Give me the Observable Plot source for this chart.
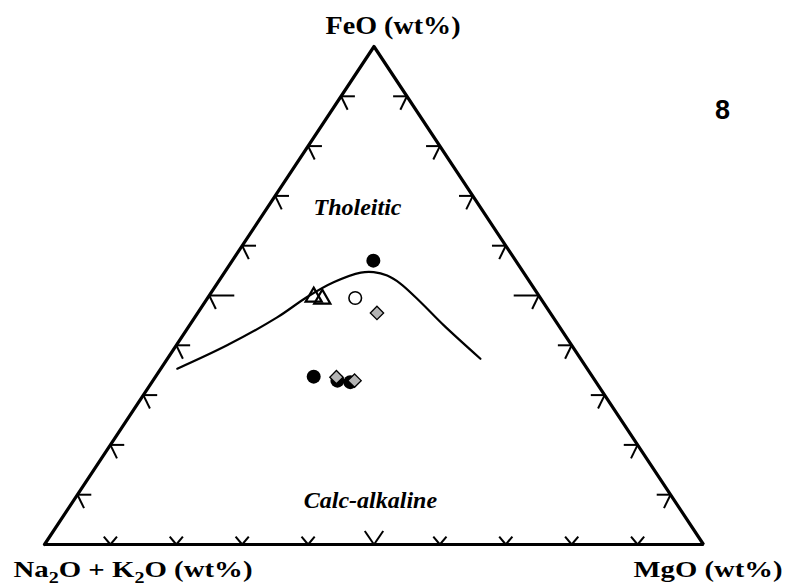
<!DOCTYPE html>
<html><head><meta charset="utf-8">
<script src="https://cdn.jsdelivr.net/npm/d3@7"></script>
<script src="https://cdn.jsdelivr.net/npm/@observablehq/plot@0.6"></script>
<style>body{margin:0;background:#fff} #chart svg{display:block}</style>
</head><body><div id="chart"></div>
<script>
// AFM ternary: A = Na2O+K2O, F = FeO, M = MgO (wt%)
// Tholeiitic / calc-alkaline boundary curve
const boundaryA = [62.2, 52.3, 41.9, 35.3, 29.7, 24.7, 22.7, 21.0, 19.8, 18.6, 17.4, 15.2];
const boundaryF = [35.3, 40.0, 45.6, 49.7, 52.7, 54.6, 54.7, 54.0, 52.4, 48.7, 44.0, 37.3];
const boundaryM = [2.5, 7.7, 12.5, 15.0, 17.6, 20.7, 22.6, 25.0, 27.8, 32.7, 38.6, 47.5];

// Samples
const sampleType = ["filled circle", "open triangle", "open triangle", "open circle", "grey diamond",
                    "filled circle", "filled circle", "grey diamond", "filled circle", "grey diamond"];
const sampleA = [21.6, 34.3, 33.2, 28.1, 26.3, 42.3, 39.1, 38.9, 37.3, 36.5];
const sampleF = [57.0, 49.7, 49.3, 49.5, 46.5, 33.7, 32.9, 33.6, 32.6, 32.9];
const sampleM = [21.4, 16.0, 17.5, 22.4, 27.2, 24.0, 28.0, 27.5, 30.1, 30.6];

// Edge tick values (%)
const tickValues = [10, 20, 30, 40, 50, 60, 70, 80, 90];

// Labels
const cornerLabels = ["Na2O + K2O (wt%)", "FeO (wt%)", "MgO (wt%)"];
const fieldLabels = ["Tholeitic", "Calc-alkaline"];
const fieldA = [19.45, 46.85];
const fieldF = [66.1, 7.4];
const fieldM = [14.45, 45.75];
const panelLabel = "8";

// ternary -> cartesian (percent units)
const tx = (a, f, m) => 100 * (m + f / 2) / (a + f + m);
const ty = (a, f, m) => 100 * f / (a + f + m);

const boundary = boundaryA.map((a, i) => ({x: tx(a, boundaryF[i], boundaryM[i]), y: ty(a, boundaryF[i], boundaryM[i])}));
const samples = sampleType.map((t, i) => ({type: t, x: tx(sampleA[i], sampleF[i], sampleM[i]), y: ty(sampleA[i], sampleF[i], sampleM[i])}));
const frame = [[100, 0, 0], [0, 100, 0], [0, 0, 100], [100, 0, 0], [0, 100, 0]].map(([a, f, m]) => ({x: tx(a, f, m), y: ty(a, f, m)}));
const fields = fieldLabels.map((t, i) => ({text: t, x: tx(fieldA[i], fieldF[i], fieldM[i]), y: ty(fieldA[i], fieldF[i], fieldM[i])}));

// tick segments
const segs = [];
for (const t of tickValues) {
  const big = t === 50;
  const hl = big ? 3.8 : 2.1;
  // left edge (M = 0)
  let p = {x: tx(100 - t, t, 0), y: ty(100 - t, t, 0)};
  segs.push({x1: p.x, y1: p.y, x2: p.x + hl, y2: p.y});
  segs.push({x1: p.x, y1: p.y, x2: p.x + 1.0, y2: p.y - 2.7});
  // right edge (A = 0)
  p = {x: tx(0, t, 100 - t), y: ty(0, t, 100 - t)};
  segs.push({x1: p.x, y1: p.y, x2: p.x - hl, y2: p.y});
  segs.push({x1: p.x, y1: p.y, x2: p.x - 1.0, y2: p.y - 2.7});
  // bottom edge (F = 0)
  p = {x: tx(100 - t, 0, t), y: ty(100 - t, 0, t)};
  const bw = big ? 1.4 : 1.0, bh = big ? 2.7 : 1.6;
  segs.push({x1: p.x, y1: p.y, x2: p.x - bw, y2: p.y + bh});
  segs.push({x1: p.x, y1: p.y, x2: p.x + bw, y2: p.y + bh});
}

const serif = "'Liberation Serif', 'Times New Roman', serif";

const chart = Plot.plot({
  width: 789,
  height: 588,
  margin: 0,
  x: {domain: [0, 100], range: [44, 703], axis: null},
  y: {domain: [0, 100], range: [544, 46], axis: null},
  style: {background: "#fff"},
  marks: [
    Plot.link(segs, {x1: "x1", y1: "y1", x2: "x2", y2: "y2", stroke: "#000", strokeWidth: 2}),
    Plot.line(frame, {x: "x", y: "y", stroke: "#000", strokeWidth: 3.2, strokeLinejoin: "miter"}),
    Plot.line(boundary, {x: "x", y: "y", stroke: "#000", strokeWidth: 2.2, curve: "catmull-rom"}),
    Plot.dot(samples.filter(d => d.type === "filled circle"), {x: "x", y: "y", r: 7, fill: "#000", stroke: "none"}),
    Plot.dot(samples.filter(d => d.type === "open circle"), {x: "x", y: "y", r: 6.3, fill: "#fff", stroke: "#000", strokeWidth: 1.6}),
    Plot.dot(samples.filter(d => d.type === "open triangle"), {x: "x", y: "y", r: 6, symbol: "triangle", fill: "none", stroke: "#000", strokeWidth: 2.2}),
    Plot.dot(samples.filter(d => d.type === "grey diamond"), {x: "x", y: "y", r: 6, symbol: "diamond2", fill: "#b4b4b4", stroke: "#000", strokeWidth: 1.3}),
    Plot.text(fields, {x: "x", y: "y", text: "text", fontFamily: serif, fontWeight: "bold", fontStyle: "italic", fontSize: 24, textAnchor: "middle", lineAnchor: "bottom", fill: "#000"}),
    Plot.text([cornerLabels[0]], {x: () => 0, y: () => 0, text: d => d, fontFamily: serif, fontWeight: "bold", fontSize: 23, textAnchor: "start", lineAnchor: "bottom", dx: -31, dy: 32, fill: "#000"}),
    Plot.text([cornerLabels[1]], {x: () => 50, y: () => 100, text: d => d, fontFamily: serif, fontWeight: "bold", fontSize: 25, textAnchor: "middle", lineAnchor: "bottom", dx: 19, dy: -13, fill: "#000"}),
    Plot.text([cornerLabels[2]], {x: () => 100, y: () => 0, text: d => d, fontFamily: serif, fontWeight: "bold", fontSize: 23, textAnchor: "end", lineAnchor: "bottom", dx: 79, dy: 32, fill: "#000"}),
    Plot.text([panelLabel], {frameAnchor: "top-right", text: d => d, fontFamily: "'Liberation Sans', Arial, sans-serif", fontWeight: "bold", fontSize: 27, textAnchor: "middle", lineAnchor: "bottom", dx: -67, dy: 118, fill: "#000"})
  ]
});

document.getElementById("chart").appendChild(chart);

// stretch labels and add subscripts
const svg = d3.select(chart);
svg.selectAll("text").each(function() {
  const el = d3.select(this);
  const s = this.textContent;
  if (s === cornerLabels[0]) {
    el.text("");
    const parts = [["Na", 0], ["2", 1], ["O + K", -1], ["2", 1], ["O (wt%)", -1]];
    for (const [t, sh] of parts) {
      const ts = el.append("tspan").text(t);
      if (sh === 1) ts.attr("dy", 6).attr("font-size", 16);
      if (sh === -1) ts.attr("dy", -6);
    }
    el.attr("textLength", 239).attr("lengthAdjust", "spacingAndGlyphs");
  } else if (s === cornerLabels[1]) {
    el.attr("textLength", 135).attr("lengthAdjust", "spacingAndGlyphs");
  } else if (s === cornerLabels[2]) {
    el.attr("textLength", 149).attr("lengthAdjust", "spacingAndGlyphs");
  }
});
</script>
</body></html>
